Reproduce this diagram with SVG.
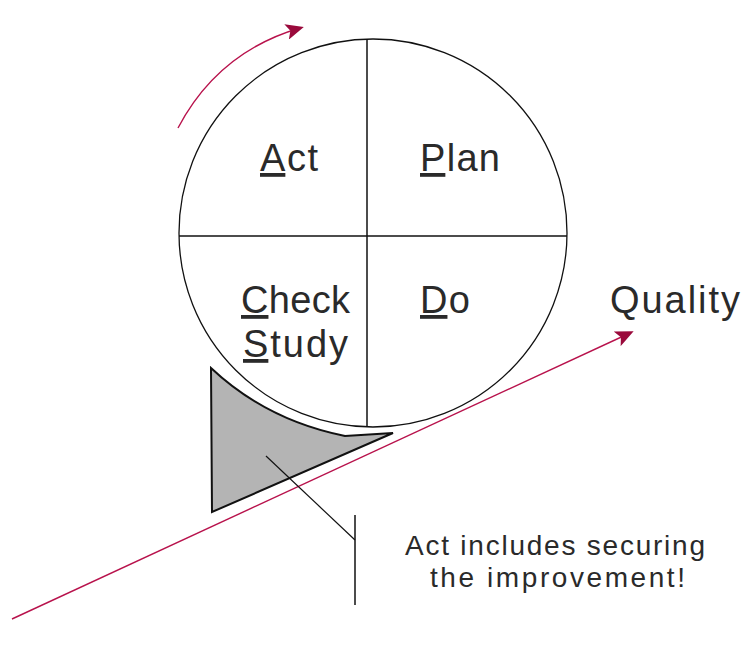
<svg xmlns="http://www.w3.org/2000/svg" width="751" height="655" viewBox="0 0 751 655">
<defs>
<marker id="ah2" markerWidth="18" markerHeight="16" refX="14" refY="8" orient="auto" markerUnits="userSpaceOnUse" viewBox="0 0 18 16">
<path d="M0,0 L18,8 L0,16 L4,8 Z" fill="#9a0a3c"/>
</marker>
<style>
.lbl{font-family:"Liberation Sans",Arial,sans-serif;font-size:38px;fill:#2a2a2a;}
.note{font-family:"Liberation Sans",Arial,sans-serif;font-size:28px;fill:#2a2a2a;}
.u{text-decoration:underline;}
.red{stroke:#b8124c;stroke-width:1.4;fill:none;}
.blk{stroke:#111;stroke-width:1.5;fill:none;}
</style>
</defs>
<rect width="751" height="655" fill="#fff"/>
<g id="wedge">
<path d="M211,368 C245,400 290,425 345,436 L393,433 L212,512 Z" fill="#b4b4b4" stroke="#111" stroke-width="2"/>
</g>
<g id="cycle">
<circle cx="373" cy="233" r="194" fill="none" stroke="#111" stroke-width="1.3"/>
<line x1="367" y1="39" x2="367" y2="426" class="blk"/>
<line x1="179" y1="236" x2="567" y2="236" class="blk"/>
</g>
<g id="act"><text class="lbl" x="260" y="171" textLength="58"><tspan class="u">A</tspan>ct</text></g>
<g id="plan"><text class="lbl" x="420" y="171" textLength="80"><tspan class="u">P</tspan>lan</text></g>
<g id="check"><text class="lbl" x="241" y="313" textLength="109"><tspan class="u">C</tspan>heck</text>
<text class="lbl" x="243" y="357" textLength="105"><tspan class="u">S</tspan>tudy</text></g>
<g id="do"><text class="lbl" x="420" y="313" textLength="50"><tspan class="u">D</tspan>o</text></g>
<g id="quality"><text class="lbl" x="610" y="313" textLength="130">Quality</text></g>
<g id="note"><text class="note" x="405" y="555" textLength="300">Act includes securing</text>
<text class="note" x="430" y="587" textLength="255">the improvement!</text></g>
<g id="connectors">
<line x1="12" y1="619" x2="630" y2="333" class="red" marker-end="url(#ah2)"/>
<path d="M178,128 Q218,52 300,28" class="red" marker-end="url(#ah2)"/>
<line x1="266" y1="456" x2="355" y2="540" stroke="#111" stroke-width="1.2"/>
<line x1="355" y1="515" x2="355" y2="605" stroke="#111" stroke-width="1.5"/>
</g>
</svg>
